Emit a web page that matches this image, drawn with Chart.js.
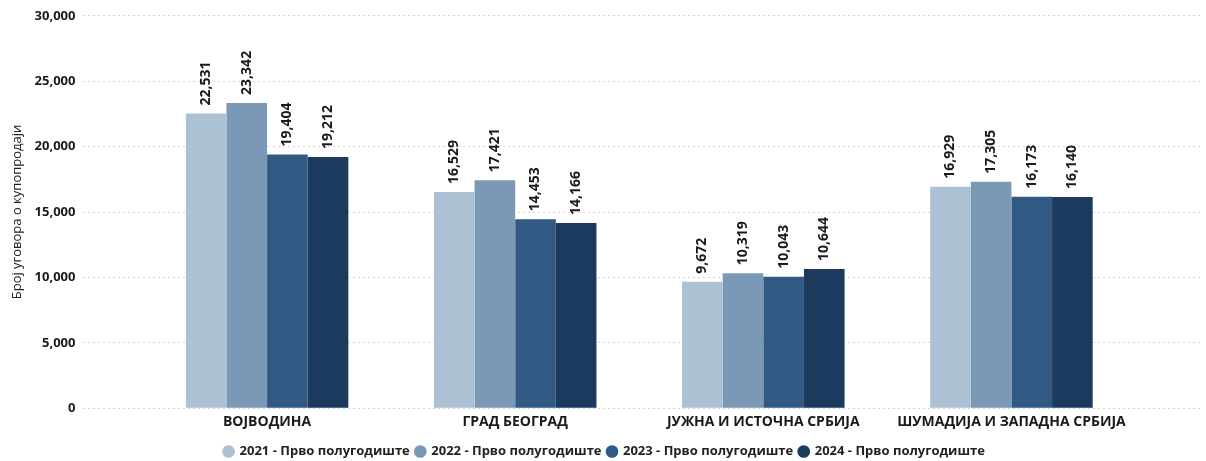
<!DOCTYPE html>
<html>
<head>
<meta charset="utf-8">
<script src="https://cdn.jsdelivr.net/npm/chart.js@4/dist/chart.umd.min.js"></script>
<style>
  body { margin: 0; background: #fff; }
  #wrap { width: 1206px; height: 461px; }
</style>
</head>
<body>
<div id="wrap"><canvas id="myChart"></canvas></div>
<script>
let regions = ['ВОЈВОДИНА', 'ГРАД БЕОГРАД', 'ЈУЖНА И ИСТОЧНА СРБИЈА', 'ШУМАДИЈА И ЗАПАДНА СРБИЈА'];
let seriesNames = ['2021 - Прво полугодиште', '2022 - Прво полугодиште', '2023 - Прво полугодиште', '2024 - Прво полугодиште'];
let y2021 = [22531, 16529, 9672, 16929];
let y2022 = [23342, 17421, 10319, 17305];
let y2023 = [19404, 14453, 10043, 16173];
let y2024 = [19212, 14166, 10644, 16140];
let yTicks = [0, 5000, 10000, 15000, 20000, 25000, 30000];
let colors = ['#adc1d4', '#7c98b7', '#305a84', '#1b3a5e'];

let fontFamily = '"Open Sans", "DejaVu Sans", sans-serif';

// value labels written vertically above each bar
const barValues = {
  id: 'barValues',
  afterDatasetsDraw(chart) {
    let ctx = chart.ctx;
    ctx.save();
    ctx.font = 'bold 14px ' + fontFamily;
    ctx.fillStyle = '#1a1a1a';
    ctx.textAlign = 'left';
    ctx.textBaseline = 'middle';
    chart.data.datasets.forEach((ds, i) => {
      chart.getDatasetMeta(i).data.forEach((bar, j) => {
        ctx.save();
        ctx.translate(bar.x, bar.y - 8);
        ctx.rotate(-Math.PI / 2);
        ctx.fillText(ds.data[j].y.toLocaleString('en-US'), 0, 0);
        ctx.restore();
      });
    });
    ctx.restore();
  }
};

function toPoints(vals) {
  return vals.map((v, i) => ({ x: i, y: v }));
}

let all = [y2021, y2022, y2023, y2024];
let ctx = document.getElementById('myChart').getContext('2d');
let myChart = new Chart(ctx, {
  type: 'bar',
  data: {
    datasets: all.map((vals, i) => ({
      label: seriesNames[i],
      data: toPoints(vals),
      backgroundColor: colors[i],
      borderWidth: 0
    }))
  },
  plugins: [barValues],
  options: {
    responsive: true,
    maintainAspectRatio: false,
    animation: false,
    categoryPercentage: 0.655,
    barPercentage: 1.0,
    layout: { padding: { top: 8, right: 6, left: 9, bottom: -7 } },
    plugins: {
      legend: {
        position: 'bottom',
        // empty title only adds a little space above the legend row
        title: {
          display: true,
          text: '',
          padding: 1,
          font: { size: 2, lineHeight: 1 }
        },
        labels: {
          usePointStyle: true,
          pointStyle: 'circle',
          boxWidth: 9,
          boxHeight: 9,
          padding: 6,
          color: '#222',
          font: { family: fontFamily, size: 13, weight: 'bold' }
        }
      },
      tooltip: { enabled: false }
    },
    scales: {
      x: {
        type: 'linear',
        offset: false,
        min: -0.74,
        max: 3.76,
        afterBuildTicks: (axis) => {
          axis.ticks = regions.map((r, i) => ({ value: i }));
        },
        ticks: {
          callback: (v) => regions[v],
          color: '#1a1a1a',
          padding: 5,
          font: { family: fontFamily, size: 14, weight: 'bold' },
          maxRotation: 0
        },
        grid: { display: false, drawTicks: false },
        border: { display: false }
      },
      y: {
        min: 0,
        max: 30000,
        afterBuildTicks: (axis) => {
          axis.ticks = yTicks.map(v => ({ value: v }));
        },
        ticks: {
          color: '#1a1a1a',
          padding: 8,
          font: { family: fontFamily, size: 13, weight: 'bold' },
          callback: (v) => v.toLocaleString('en-US')
        },
        grid: {
          color: '#d6d6d6',
          drawTicks: false,
          lineWidth: 1
        },
        border: { display: false, dash: [2, 3] },
        title: {
          display: true,
          text: 'Број уговора о купопродаји',
          color: '#222',
          padding: { top: 0, bottom: 2 },
          font: { family: fontFamily, size: 13 }
        }
      }
    }
  }
});
</script>
</body>
</html>
